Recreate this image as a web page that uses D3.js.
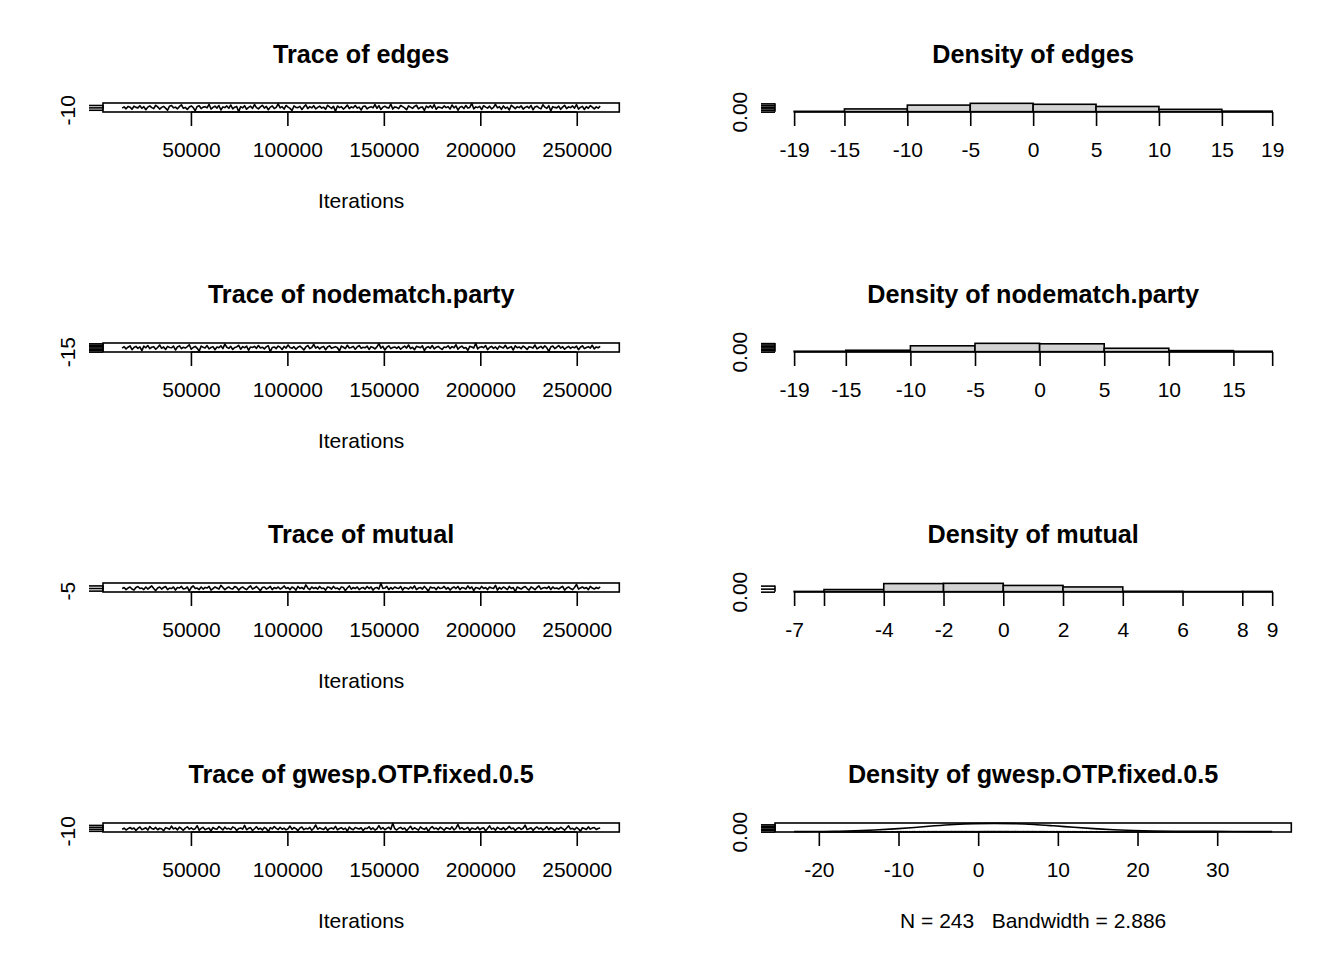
<!DOCTYPE html>
<html><head><meta charset="utf-8">
<script src="https://cdn.jsdelivr.net/npm/d3@7"></script>
<style>
body{margin:0;background:#fff}
svg{display:block}
text{font-family:"Liberation Sans",Arial,Helvetica,sans-serif;fill:#000}
</style>
</head><body>
<svg id="c" width="1344" height="960"></svg>
<script>
// ---------------- data ----------------
const paramNames = ["edges", "nodematch.party", "mutual", "gwesp.OTP.fixed.0.5"];
const iterStart = 14336, iterThin = 1024;   // MCMC sample iterations

const traceEdges = [
-3,2,-6,4,1,-8,5,0,-2,7,-4,3,-10,1,6,-1,-5,9,2,-7,
0,4,-3,-12,5,8,-2,1,-6,3,11,-4,0,-9,2,6,-1,-14,4,7,
-5,1,3,-2,13,-7,0,5,-3,8,-11,2,-1,6,-4,10,-6,1,4,-18,
3,-2,7,-8,0,5,-4,12,-1,-6,2,9,-3,4,-10,1,6,-5,0,15,
-2,3,-7,8,1,-4,-13,6,0,-1,4,-9,2,11,-5,3,-2,7,-6,0,
5,-3,1,-8,9,2,-4,4,-16,6,-1,3,-7,0,10,-5,2,-2,8,-3,
1,-11,4,6,-6,0,3,-2,12,-4,7,-9,1,5,-1,-3,14,-7,2,0,
-5,8,3,-2,-10,6,1,-4,4,9,-6,0,2,-13,5,-1,7,-3,11,-8,
2,0,-4,6,-1,3,-7,10,-2,5,-12,1,4,-5,8,-3,0,17,-6,2,
-1,4,-9,7,1,-3,5,-6,0,13,-2,3,-8,6,-4,1,-11,9,2,-5,
3,-1,6,-7,0,4,-3,8,-10,2,5,-2,-6,11,1,-4,7,-15,3,0,
-2,5,-8,1,9,-5,2,-1,6,-3,12,-7,0,4,-9,3,-4,7,1,-6,
2,-3,5];

const traceNodematch = [
-2,3,-5,1,6,-8,0,4,-3,2,-11,5,-1,7,-4,1,3,-6,0,9,
-3,2,-7,4,0,-1,5,-9,2,6,-4,1,-2,3,10,-6,0,4,-3,-13,
5,1,-2,7,-5,0,3,-8,2,-1,6,-4,12,1,-3,4,-7,0,2,8,
-6,3,-1,5,-10,2,0,4,-3,7,-2,1,-5,3,6,-15,0,2,-4,5,
1,-7,4,-2,9,0,-3,3,-6,1,5,-1,-9,2,7,-4,0,11,-2,3,
-5,1,4,-8,2,6,-3,0,3,-1,-12,5,1,-4,8,-2,0,4,-6,2,
7,-3,1,-1,5,-7,3,0,-5,2,14,-2,4,-9,1,6,-4,0,2,-3,
3,-6,0,5,-2,9,-4,1,-8,4,2,-1,6,-11,0,3,-3,7,-5,1,
4,-2,-7,2,0,6,-4,3,-1,10,-6,1,5,-3,0,-10,4,2,-2,15,
-5,1,3,-1,7,-8,0,4,-3,2,-6,5,1,-2,8,-4,0,3,-9,6,
-1,2,-4,5,0,-7,3,1,-2,9,-5,0,4,-3,6,-1,-14,2,5,-4,
1,7,-2,3,-6,0,4,-3,2,-1,5,-8,1,6,-4,0,3,-2,8,-5,
2,-1,4];

const traceMutual = [
-1,1,-3,0,2,-2,-4,1,3,-1,0,-3,2,-2,1,4,-1,-5,0,2,
-2,1,3,-3,0,-1,2,-4,1,0,3,-2,-1,2,-6,1,4,-1,0,-3,
2,-2,1,0,3,-4,-1,2,0,-2,5,1,-3,0,2,-1,-2,3,1,-4,
0,2,-1,-3,1,4,-2,0,3,-1,-5,1,2,-2,0,3,-3,1,-1,2,
-2,0,4,-1,1,-3,2,0,-4,3,-1,1,-2,6,0,-3,2,-1,1,-2,
3,-1,0,-4,2,1,-2,3,-1,0,-3,2,1,-5,0,4,-2,1,-1,2,
-3,0,1,-2,3,-1,2,-4,0,1,-2,9,-1,0,3,-3,1,-2,2,0,
-1,3,-4,1,0,-2,2,-1,4,-3,0,1,-2,3,-1,-6,2,0,1,-3,
2,-1,0,3,-2,1,-4,0,2,-1,3,-3,1,0,-2,4,-1,2,-5,1,
0,-2,3,-1,1,-3,2,0,-1,5,-4,1,-2,2,0,-3,3,-1,1,-7,
2,0,-2,1,3,-1,-4,2,0,-3,1,4,-2,0,1,-1,3,-3,2,-1,
0,-2,1,3,-4,0,2,-1,-3,1,7,-2,0,2,-1,1,-3,3,0,-2,
1,-1,2];

const traceGwesp = [
-2.1,3.4,-5.8,1.2,6.9,-0.7,4.3,-8.2,2.6,9.5,-3.9,0.8,5.7,-6.4,11.3,1.9,-1.5,7.2,-4.6,3.1,
0.4,-9.7,6.2,2.8,-2.9,13.6,-0.3,4.9,-5.1,8.4,1.6,-7.3,3.7,10.2,-1.8,5.5,-3.4,0.9,15.8,-6.7,
2.3,7.9,-4.2,1.1,4.6,-10.8,6.8,0.2,-2.5,12.1,3.3,-5.6,8.9,-0.9,2.7,-3.1,9.8,5.1,-7.9,1.4,
4.1,-1.2,17.4,-4.8,2.9,6.3,-8.6,0.6,10.7,-2.3,3.8,-6.1,7.4,1.7,-14.4,5.9,-0.5,11.9,2.2,-3.7,
8.1,-1.9,3.6,-5.3,0.1,14.2,-2.7,6.6,1.3,-9.1,4.4,9.2,-4.1,2.5,-0.8,7.7,-6.9,3.2,19.6,-2.2,
5.2,0.7,-3.6,8.7,-7.4,2.1,4.8,-1.1,12.8,-5.4,1.8,6.1,-2.6,3.9,-11.7,9.4,0.3,-4.4,7.1,2.4,
-0.6,5.8,-8.9,3.5,1.5,10.9,-3.2,4.7,-6.2,0.5,16.3,-1.4,6.7,-4.9,2.6,8.3,-2.8,28.2,1.0,-5.9,
3.0,7.6,-1.6,4.5,-9.8,2.0,13.1,-3.3,5.3,0.0,-6.6,9.9,1.6,-2.4,6.4,-12.9,3.4,11.2,-0.2,4.2,
-4.3,8.6,1.9,-7.1,5.0,2.7,-1.7,10.4,-5.2,3.1,22.5,-0.4,6.0,-3.5,1.2,7.8,-8.3,4.0,0.6,-2.0,
9.1,-4.7,2.4,5.6,-10.1,1.4,14.9,-1.3,3.7,-6.8,8.0,0.9,-3.0,6.5,-5.7,2.8,12.4,-0.1,4.6,-8.0,
1.7,7.0,-2.5,3.3,18.7,-4.0,0.4,5.4,-7.6,2.2,9.6,-1.0,4.9,-5.5,1.1,11.6,-3.8,6.2,0.8,-9.4,
3.6,-2.1,8.2,1.3,-6.3,4.3,15.4,-0.7,2.9,-4.5,7.3,0.2,-12.2,5.7,1.9,-2.9,10.0,-1.6,3.8,6.8,
-3.4,2.0,4.7];

// histogram (density scale) panels
const histEdgesBreaks = [-19,-15,-10,-5,0,5,10,15,19];
const histEdgesDensity = [0.00206,0.01646,0.03951,0.05021,0.04444,0.03128,0.01399,0.00309];
const histEdgesXLabels = ["-19","-15","-10","-5","0","5","10","15","19"];

const histNodematchBreaks = [-19,-15,-10,-5,0,5,10,15,18];
const histNodematchDensity = [0.00309,0.00988,0.04115,0.05844,0.05514,0.02387,0.00741,0.00274];
const histNodematchXLabels = ["-19","-15","-10","-5","0","5","10","15",""];

const histMutualBreaks = [-7,-6,-4,-2,0,2,4,6,8,9];
const histMutualDensity = [0.00412,0.03498,0.13374,0.13786,0.10288,0.07819,0.00617,0.00206,0.00412];
const histMutualXLabels = ["-7","","-4","-2","0","2","4","6","8","9"];

// kernel density curve for gwesp
const gwespDensX = [-23.1,-20.5,-18,-15.5,-13,-10.5,-8,-5.5,-3,-0.5,2,4.5,7,9.5,12,14.5,17,19.5,22,24.5,27,29.5,32,34.5,36.9];
const gwespDensY = [0.0003,0.001,0.0025,0.0055,0.011,0.019,0.029,0.040,0.049,0.055,0.057,0.055,0.049,0.040,0.030,0.021,0.013,0.0075,0.0045,0.003,0.0022,0.0017,0.0011,0.0005,0.0002];
const gwespXTicks = [-20,-10,0,10,20,30];
const gwespBandwidth = "2.886";

// axis ticks
const traceXTicks = [50000,100000,150000,200000,250000];
const traceYTicksEdges = [-10,0,10];
const traceYTicksNodematch = [-15,-10,-5,0,5,10,15];
const traceYTicksMutual = [-5,0,5];
const traceYTicksGwesp = [-10,0,10,20];
const histYTicksEdges = [0,0.01,0.02,0.03,0.04,0.05];
const histYTicksNodematch = [0,0.01,0.02,0.03,0.04,0.05,0.06];
const histYTicksMutual = [0,0.05,0.10];
const densYTicksGwesp = [0,0.01,0.02,0.03,0.04,0.05];

// ---------------- layout ----------------
const svg = d3.select("#c");
const FIG_W = 672, FIG_H = 240;
const MAR_L = 103, MAR_R = 52.7, MAR_T = 103, MAR_B = 128;
const LW = 1.6, TICK = 14, FS = 21, FS_MAIN = 25.2;

function region(row, col) {
  const x0 = col * FIG_W + MAR_L, x1 = (col + 1) * FIG_W - MAR_R;
  const y0 = row * FIG_H + MAR_T, y1 = (row + 1) * FIG_H - MAR_B;
  return {x0, x1, y0, y1, top: row * FIG_H};
}
function ext(a, b) { const p = (b - a) * 0.04; return [a - p, b + p]; }

function titles(r, main, xlab) {
  const cx = (r.x0 + r.x1) / 2;
  svg.append("text").attr("x", cx).attr("y", r.top + 63)
    .attr("text-anchor", "middle").attr("font-weight", "bold")
    .attr("font-size", FS_MAIN).text(main);
  svg.append("text").attr("x", cx).attr("y", r.top + 207.5)
    .attr("text-anchor", "middle").attr("font-size", FS)
    .style("white-space", "pre").text(xlab);
}

function xAxis(r, x, ticks, labels) {
  const g = svg.append("g").attr("transform", `translate(0,${r.y1})`)
    .call(d3.axisBottom(x).tickValues(ticks).tickSize(TICK)
      .tickFormat((d, i) => labels[i]));
  g.select(".domain").remove();
  g.selectAll(".tick line").attr("stroke", "#000").attr("stroke-width", LW);
  g.selectAll(".tick text").attr("y", 44.5).attr("dy", 0)
    .attr("font-size", FS).attr("font-family", null);
  g.append("line").attr("x1", x(ticks[0])).attr("x2", x(ticks[ticks.length - 1]))
    .attr("stroke", "#000").attr("stroke-width", LW);
}

function yAxis(r, y, ticks, firstLabel) {
  const g = svg.append("g").attr("transform", `translate(${r.x0},0)`)
    .call(d3.axisLeft(y).tickValues(ticks).tickSize(TICK)
      .tickFormat((d, i) => i === 0 ? firstLabel : ""));
  g.select(".domain").remove();
  g.selectAll(".tick line").attr("stroke", "#000").attr("stroke-width", LW);
  g.selectAll(".tick text").attr("x", 0).attr("y", -28).attr("dy", 0)
    .attr("transform", "rotate(-90)").attr("text-anchor", "middle")
    .attr("font-size", FS).attr("font-family", null);
  g.append("line").attr("y1", y(ticks[0])).attr("y2", y(ticks[ticks.length - 1]))
    .attr("stroke", "#000").attr("stroke-width", LW);
}

function box(r) {
  svg.append("rect").attr("x", r.x0).attr("y", r.y0)
    .attr("width", r.x1 - r.x0).attr("height", r.y1 - r.y0)
    .attr("fill", "none").attr("stroke", "#000").attr("stroke-width", LW);
}

function drawTrace(row, name, values, yTicks) {
  const r = region(row, 0);
  const iters = values.map((_, i) => iterStart + i * iterThin);
  const x = d3.scaleLinear(ext(...d3.extent(iters)), [r.x0, r.x1]);
  const y = d3.scaleLinear(ext(...d3.extent(values)), [r.y1, r.y0]);
  svg.append("path").datum(values)
    .attr("d", d3.line().x((d, i) => x(iters[i])).y(d => y(d)))
    .attr("fill", "none").attr("stroke", "#000").attr("stroke-width", LW)
    .attr("stroke-linejoin", "round");
  box(r);
  xAxis(r, x, traceXTicks, traceXTicks.map(String));
  yAxis(r, y, yTicks, String(yTicks[0]));
  titles(r, "Trace of " + name, "Iterations");
}

function drawHist(row, name, breaks, dens, xLabels, yTicks) {
  const r = region(row, 1);
  const x = d3.scaleLinear(ext(breaks[0], breaks[breaks.length - 1]), [r.x0, r.x1]);
  const y = d3.scaleLinear(ext(0, d3.max(dens)), [r.y1, r.y0]);
  svg.append("g").selectAll("rect").data(dens).join("rect")
    .attr("x", (d, i) => x(breaks[i]))
    .attr("width", (d, i) => x(breaks[i + 1]) - x(breaks[i]))
    .attr("y", d => y(d))
    .attr("height", d => y(0) - y(d))
    .attr("fill", "#D3D3D3").attr("stroke", "#000").attr("stroke-width", LW);
  xAxis(r, x, breaks, xLabels);
  yAxis(r, y, yTicks, "0.00");
  titles(r, "Density of " + name, "");
}

function drawDensity(row, name, dx, dy, obs, xTicks, yTicks) {
  const r = region(row, 1);
  const x = d3.scaleLinear(ext(...d3.extent(dx)), [r.x0, r.x1]);
  const y = d3.scaleLinear(ext(0, d3.max(dy)), [r.y1, r.y0]);
  svg.append("path").datum(dx)
    .attr("d", d3.line().curve(d3.curveMonotoneX).x(d => x(d)).y((d, i) => y(dy[i])))
    .attr("fill", "none").attr("stroke", "#000").attr("stroke-width", LW);
  const hmax = d3.max(dy) / 100;
  svg.append("g").selectAll("line").data(obs).join("line")
    .attr("x1", d => x(d)).attr("x2", d => x(d))
    .attr("y1", y(0)).attr("y2", y(hmax))
    .attr("stroke", "#444").attr("stroke-width", LW).attr("stroke-linecap", "round");
  box(r);
  xAxis(r, x, xTicks, xTicks.map(String));
  yAxis(r, y, yTicks, "0.00");
  titles(r, "Density of " + name, `N = ${obs.length}   Bandwidth = ${gwespBandwidth}`);
}

drawTrace(0, paramNames[0], traceEdges, traceYTicksEdges);
drawTrace(1, paramNames[1], traceNodematch, traceYTicksNodematch);
drawTrace(2, paramNames[2], traceMutual, traceYTicksMutual);
drawTrace(3, paramNames[3], traceGwesp, traceYTicksGwesp);

drawHist(0, paramNames[0], histEdgesBreaks, histEdgesDensity, histEdgesXLabels, histYTicksEdges);
drawHist(1, paramNames[1], histNodematchBreaks, histNodematchDensity, histNodematchXLabels, histYTicksNodematch);
drawHist(2, paramNames[2], histMutualBreaks, histMutualDensity, histMutualXLabels, histYTicksMutual);
drawDensity(3, paramNames[3], gwespDensX, gwespDensY, traceGwesp, gwespXTicks, densYTicksGwesp);
</script>
</body></html>
